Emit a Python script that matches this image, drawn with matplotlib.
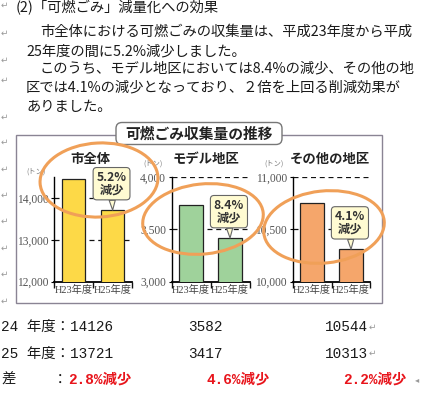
import matplotlib.pyplot as plt
from matplotlib.patches import Ellipse, Rectangle, FancyBboxPatch

plt.rcParams['font.family'] = ['Noto Sans CJK JP', 'DejaVu Sans']

# data
regions = ['市全体', 'モデル地区', 'その他の地区']
years = ['H23年度', 'H25年度']
city = [14460, 13710]
model = [3730, 3417]
other = [10750, 10310]
pct_labels = ['5.2%', '8.4%', '4.1%']
yticks = [[12000, 13000, 14000], [3000, 3500, 4000], [10000, 10500, 11000]]
ylims = [(12000, 14500), (3000, 4000), (10000, 11000)]
dashed = [[13000, 14000], [3500, 4000], [10500, 11000]]
bar_colors = ['#fdd947', '#9fd29b', '#f5a66b']

# table under the chart
row_h24 = ['14126', '3582', '10544']
row_h25 = ['13721', '3417', '10313']
diff = ['2.8%減少', '4.6%減少', '2.2%減少']

W, H = 427, 395
fig = plt.figure(figsize=(W / 100, H / 100), dpi=100)

bg = fig.add_axes([0, 0, 1, 1], zorder=0)
bg.set_xlim(0, W)
bg.set_ylim(H, 0)
bg.axis('off')

fg = fig.add_axes([0, 0, 1, 1], zorder=5)
fg.set_xlim(0, W)
fg.set_ylim(H, 0)
fg.axis('off')
fg.patch.set_alpha(0)

txt = '#1a1a1a'
fs = 10.3
# body text
bg.text(16, 8, '(2)「可燃ごみ」減量化への効果', fontsize=fs, color=txt, va='center')
bg.text(40, 32, '市全体における可燃ごみの収集量は、平成23年度から平成', fontsize=fs, color=txt, va='center')
bg.text(26, 51.5, '25年度の間に5.2%減少しました。', fontsize=fs, color=txt, va='center')
bg.text(40, 68.5, 'このうち、モデル地区においては8.4%の減少、その他の地', fontsize=fs, color=txt, va='center')
bg.text(26, 87.5, '区では4.1%の減少となっており、２倍を上回る削減効果が', fontsize=fs, color=txt, va='center')
bg.text(26, 106.5, 'ありました。', fontsize=fs, color=txt, va='center')

for y in [5, 33, 60, 80, 117, 142, 169, 195, 221, 248, 274, 301]:
    bg.text(1, y, '↵', fontsize=6.5, color='#999', va='center', family=['DejaVu Sans'])

# chart frame and title box
bg.add_patch(Rectangle((16, 134.5), 366.5, 168, fill=False, ec='#8a8494', lw=1))
bg.add_patch(FancyBboxPatch((116, 122.5), 166, 22, boxstyle='round,pad=0,rounding_size=6',
                            fc='white', ec='#777', lw=1))
bg.text(199, 134, '可燃ごみ収集量の推移', fontsize=10.6, fontweight='bold', color='#222',
        ha='center', va='center')

for x, y, s in [(90, 158.5, regions[0]), (206, 158.5, regions[1]), (330, 158.5, regions[2])]:
    bg.text(x, y, s, fontsize=9.6, fontweight='bold', color='#222', ha='center', va='center')
for x, y in [(36, 171.5), (153, 164), (274, 163.5)]:
    bg.text(x, y, '(トン)', fontsize=5.2, color='#777', ha='center', va='center')

# three bar charts
ax_left = [54.3, 171.7, 292.7]
ax_w = 77.8
top_px, bot_px = 177, 281.7
series = [city, model, other]
for i in range(3):
    ax = fig.add_axes([ax_left[i] / W, (H - bot_px) / H, ax_w / W, (bot_px - top_px) / H], zorder=2)
    ax.patch.set_alpha(0)
    ax.bar([0, 1], series[i], width=0.6, color=bar_colors[i], edgecolor='#222', linewidth=0.9, zorder=3)
    for v in dashed[i]:
        ax.axhline(v, color='#111', ls=(0, (4, 3)), lw=0.9, zorder=1)
    ax.set_xlim(-0.5, 1.5)
    ax.set_ylim(*ylims[i])
    ax.set_yticks(yticks[i])
    ax.set_yticklabels([f'{t:,}' for t in yticks[i]], family=['Liberation Serif'], fontsize=8.3, color='#555')
    ax.tick_params(axis='y', length=2.5, width=0.8, pad=1.5)
    ax.set_xticks([0, 1])
    ax.set_xticklabels(years, family=['Liberation Serif', 'Noto Sans CJK JP'], fontsize=7.4, color='#444')
    ax.set_xticks([-0.5, 0.5, 1.5], minor=True)
    ax.tick_params(axis='x', which='major', length=0, pad=2)
    ax.tick_params(axis='x', which='minor', length=4, width=1, color='#111')
    for s in ['top', 'right']:
        ax.spines[s].set_visible(False)
    ax.spines['left'].set_linewidth(1)
    ax.spines['bottom'].set_linewidth(1.3)
    ax.annotate(pct_labels[i] + '\n減少', xy=(1, series[i][1]), xytext=(-0.8, 19),
                textcoords='offset points', ha='center', va='center', fontsize=8.8,
                fontweight='bold', color='#333', linespacing=0.95, zorder=6,
                bbox=dict(boxstyle='round,pad=0.28,rounding_size=0.3', fc='#fffbd2', ec='#666', lw=0.8),
                arrowprops=dict(arrowstyle='wedge,tail_width=0.5', fc='#fffbd2', ec='#666',
                                lw=0.8, shrinkA=0, shrinkB=0))

# orange rings
orange = '#f0a058'
for (cx, cy), w, h, ang in [((99, 180), 118, 74, -3), ((203, 219), 121, 70, -6), ((324, 227), 121, 72, -6)]:
    fg.add_patch(Ellipse((cx, cy), w, h, angle=ang, fill=False, ec=orange, lw=2.2))

# numbers below
mono = ['Liberation Mono', 'Noto Sans CJK JP']
fm = 10.4
bg.text(1, 327, '24 年度：' + row_h24[0], family=mono, fontsize=fm, color=txt, va='center')
bg.text(188, 327, row_h24[1], family=mono, fontsize=fm, color=txt, va='center')
bg.text(325, 327, row_h24[2], family=mono, fontsize=fm, color=txt, va='center')
bg.text(1, 353.5, '25 年度：' + row_h25[0], family=mono, fontsize=fm, color=txt, va='center')
bg.text(188, 353.5, row_h25[1], family=mono, fontsize=fm, color=txt, va='center')
bg.text(325, 353.5, row_h25[2], family=mono, fontsize=fm, color=txt, va='center')
for y in [327, 353.5]:
    bg.text(369, y, '↵', fontsize=6.5, color='#999', va='center', family=['DejaVu Sans'])
bg.text(1, 380, '差', fontsize=fm, color=txt, va='center')
bg.text(53, 380, '：', fontsize=fm, color=txt, va='center')
for x, s in zip([68, 207, 343], diff):
    bg.text(x, 380, s, family=mono, fontsize=fm, fontweight='bold', color='#e8141b', va='center')
bg.text(415, 380, '◂', fontsize=6, color='#999', va='center', family=['DejaVu Sans'])

fig.savefig('out.png', dpi=100)
